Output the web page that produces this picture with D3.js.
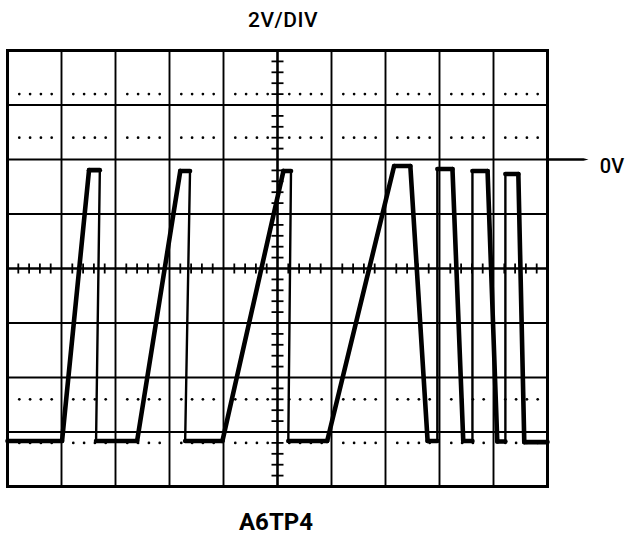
<!DOCTYPE html>
<html><head><meta charset="utf-8">
<script src="https://cdn.jsdelivr.net/npm/d3@7/dist/d3.min.js"></script>
<style>body{margin:0;background:#fff}</style>
</head><body><svg id="c" width="631" height="538"></svg>
<script>
// ---- data ----
const titleText = "2V/DIV";
const probeLabel = "A6TP4";
const refLabel = "0V";
const refVolts = 0;
const voltsPerDiv = 2;
const xDivs = 10;           // horizontal divisions
const voltRange = [-12, 4]; // 8 vertical divisions at 2 V/div
const centerTime = 5;
const centerVolts = -4;
const dottedVolts = [2.4, 0.8, -8.8, -10.4];
// trace, time in divisions, amplitude in volts
const traceTime  = [0, 1.01, 1.51, 1.71, 1.64, 2.40, 3.20, 3.38, 3.29, 3.98, 5.11, 5.25, 5.20, 5.92,
                    7.16, 7.46, 7.78, 7.96, 7.96, 8.24, 8.44, 8.61, 8.61, 8.89, 9.07, 9.22, 9.22, 9.46, 9.57, 10];
const traceVolts = [-10.33, -10.33, -0.39, -0.39, -10.33, -10.33, -0.42, -0.42, -10.33, -10.33, -0.42, -0.42, -10.33, -10.33,
                    -0.24, -0.24, -10.33, -10.33, -0.35, -0.35, -10.33, -10.33, -0.42, -0.42, -10.35, -10.35, -0.53, -0.53, -10.37, -10.37];

// ---- scales ----
const L = 7.5, R = 547.5, T = 50.5, B = 486.5;
const x = d3.scaleLinear().domain([0, xDivs]).range([L, R]);
const y = d3.scaleLinear().domain(voltRange).range([B, T]);
const svg = d3.select("#c");
const g = svg.append("g");

// grid lines
const vGrid = d3.range(1, xDivs);
const hGrid = d3.range(voltRange[0] + voltsPerDiv, voltRange[1], voltsPerDiv);
g.selectAll(".vg").data(vGrid).enter().append("line")
  .attr("x1", d => x(d)).attr("x2", d => x(d)).attr("y1", T).attr("y2", B)
  .attr("stroke", "#000").attr("stroke-width", d => d === centerTime ? 2.6 : 1.9);
g.selectAll(".hg").data(hGrid).enter().append("line")
  .attr("x1", L).attr("x2", R).attr("y1", d => y(d)).attr("y2", d => y(d))
  .attr("stroke", "#000").attr("stroke-width", d => d === centerVolts ? 2.6 : 1.9);

// dotted rows
const dotX = [];
d3.range(0, xDivs).forEach(i => [0.2, 0.4, 0.6, 0.8].forEach(f => dotX.push(i + f)));
dottedVolts.forEach(v => {
  g.selectAll(null).data(dotX).enter().append("circle")
    .attr("cx", d => x(d) + 1).attr("cy", y(v)).attr("r", 1.35).attr("fill", "#000");
});

// minor ticks on centre axes
const xMinor = d3.range(0.2, xDivs, 0.2).filter(d => Math.abs(d - Math.round(d)) > 0.01);
g.selectAll(".xt").data(xMinor).enter().append("line")
  .attr("x1", d => x(d)).attr("x2", d => x(d))
  .attr("y1", y(centerVolts) - 5).attr("y2", y(centerVolts) + 5)
  .attr("stroke", "#000").attr("stroke-width", 1.8);
const yMinor = d3.range(voltRange[0] + 0.4, voltRange[1], 0.4).filter(d => Math.abs(d / 2 - Math.round(d / 2)) > 0.01);
g.selectAll(".yt").data(yMinor).enter().append("line")
  .attr("x1", x(centerTime) - 6).attr("x2", x(centerTime) + 6)
  .attr("y1", d => y(d)).attr("y2", d => y(d))
  .attr("stroke", "#000").attr("stroke-width", 1.8);

// border
g.append("rect").attr("x", L).attr("y", T).attr("width", R - L).attr("height", B - T)
  .attr("fill", "none").attr("stroke", "#000").attr("stroke-width", 3);

// trace
const pts = traceTime.map((t, i) => [x(t), y(traceVolts[i])]);
const segs = d3.pairs(pts);
g.selectAll(".tr").data(segs).enter().append("line")
  .attr("x1", d => d[0][0]).attr("y1", d => d[0][1])
  .attr("x2", d => d[1][0]).attr("y2", d => d[1][1])
  .attr("stroke", "#000").attr("stroke-linecap", "round")
  .attr("stroke-width", d => (d[1][0] - d[0][0] <= 0.5 && Math.abs(d[1][1] - d[0][1]) > 20) ? 2.4 : 4.6);

// 0V reference marker
const yr = y(refVolts);
g.append("path")
  .attr("d", `M${R},${yr - 1.3} L${R + 36},${yr - 1.3} L${R + 41},${yr} L${R + 36},${yr + 1.3} L${R},${yr + 1.3} Z`)
  .attr("fill", "#000");
const font = "Roboto, 'Liberation Sans', sans-serif";
svg.append("text").attr("x", 612).attr("y", yr + 13).attr("text-anchor", "middle")
  .attr("font-family", font).attr("font-size", 20).attr("font-weight", 500).text(refLabel);

// titles
svg.append("text").attr("x", 283).attr("y", 27).attr("text-anchor", "middle")
  .attr("font-family", font).attr("font-size", 21).attr("font-weight", 500)
  .attr("letter-spacing", 0.5).text(titleText);
svg.append("text").attr("x", 276).attr("y", 530).attr("text-anchor", "middle")
  .attr("font-family", font).attr("font-size", 24).attr("font-weight", "bold")
  .text(probeLabel);
</script></body></html>
